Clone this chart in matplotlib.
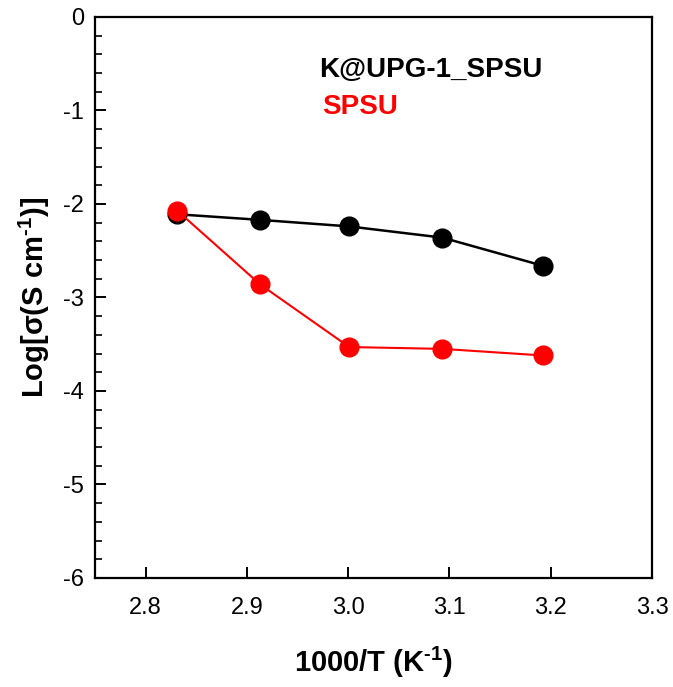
import matplotlib
matplotlib.use('Agg')
import matplotlib.pyplot as plt
from matplotlib.ticker import MultipleLocator, FormatStrFormatter

plt.rcParams['font.family'] = ['Liberation Sans', 'DejaVu Sans']
plt.rcParams['mathtext.default'] = 'regular'

# data
inv_T = [2.831, 2.913, 3.001, 3.093, 3.192]
kupg_sigma = [-2.11, -2.17, -2.24, -2.36, -2.66]
spsu_sigma = [-2.07, -2.86, -3.53, -3.55, -3.62]
names = ['K@UPG-1_SPSU', 'SPSU']

fig = plt.figure(figsize=(6.73, 6.87), dpi=100)
ax = fig.add_axes([0.1412, 0.1587, 0.8276, 0.8166])

ax.plot(inv_T, kupg_sigma, '-o', color='black', lw=1.8, ms=13.5, zorder=3)
ax.plot(inv_T, spsu_sigma, '-o', color='red', lw=1.5, ms=13.5, zorder=4)

ax.set_xlim(2.75, 3.3)
ax.set_ylim(-6, 0)
ax.xaxis.set_major_locator(MultipleLocator(0.1))
ax.xaxis.set_major_formatter(FormatStrFormatter('%.1f'))
ax.yaxis.set_major_locator(MultipleLocator(1))
ax.yaxis.set_minor_locator(MultipleLocator(0.2))
ax.yaxis.set_major_formatter(FormatStrFormatter('%d'))

for s in ax.spines.values():
    s.set_linewidth(1.6)
ax.tick_params(axis='both', which='major', direction='in', length=8, width=1.4,
               labelsize=17)
ax.tick_params(axis='y', which='minor', direction='in', length=5, width=1.2)
ax.tick_params(axis='x', pad=14)
ax.tick_params(axis='y', pad=8)

ax.set_xlabel('1000/T (K$^{\u20101}$)', fontsize=21, fontweight='bold', labelpad=18)
ax.set_ylabel('Log[σ(S cm$^{\u20101}$)]', fontsize=21, fontweight='bold', labelpad=8)

ax.text(2.971, -0.642, names[0], color='black', fontsize=20, fontweight='bold',
        va='baseline', ha='left')
ax.text(2.974, -1.037, names[1], color='red', fontsize=20, fontweight='bold',
        va='baseline', ha='left')

fig.savefig('out.png', dpi=100)
